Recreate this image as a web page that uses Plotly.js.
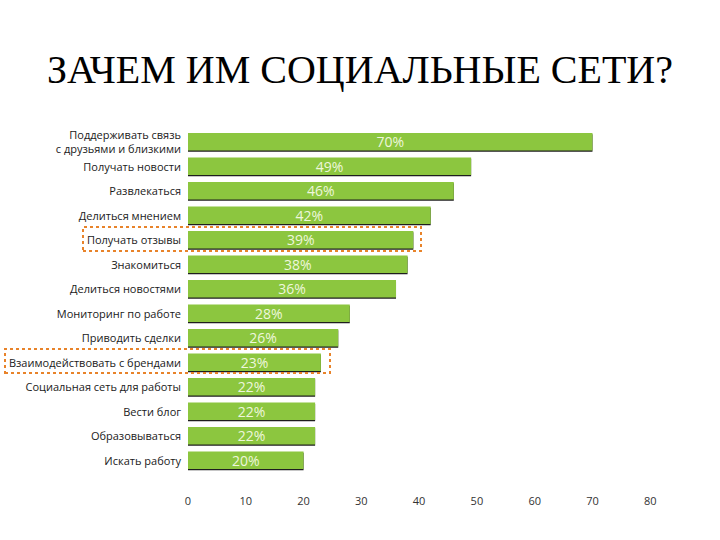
<!DOCTYPE html>
<html>
<head>
<meta charset="utf-8">
<script src="https://cdn.plot.ly/plotly-3.0.1.min.js"></script>
<style>
  html, body { margin: 0; padding: 0; background: #fff; }
  #chart { width: 720px; height: 540px; }
</style>
</head>
<body>
<div id="chart"></div>
<script>
// Данные графика
var categories = [
  "Поддерживать связь<br>с друзьями и близкими",
  "Получать новости",
  "Развлекаться",
  "Делиться мнением",
  "Получать отзывы",
  "Знакомиться",
  "Делиться новостями",
  "Мониторинг по работе",
  "Приводить сделки",
  "Взаимодействовать с брендами",
  "Социальная сеть для работы",
  "Вести блог",
  "Образовываться",
  "Искать работу"
];
var values = [70, 49, 46, 42, 39, 38, 36, 28, 26, 23, 22, 22, 22, 20];
var labels = values.map(function (v) { return v + "%"; });
var tickValues = [0, 10, 20, 30, 40, 50, 60, 70, 80];

// Тень (тёмная кромка справа и снизу)
var shadow = {
  type: "bar",
  orientation: "h",
  y: categories,
  x: values,
  width: 0.72,
  offset: -0.33,
  marker: { color: "#1e1e1e", line: { width: 0 } },
  hoverinfo: "skip"
};

// Основные полосы
var bars = {
  type: "bar",
  orientation: "h",
  y: categories,
  x: values,
  width: 0.72,
  offset: -0.38,
  marker: { color: "#8cc63f", line: { width: 0 } },
  text: labels,
  textposition: "inside",
  insidetextanchor: "middle",
  constraintext: "none",
  textangle: 0,
  textfont: { family: "Open Sans, sans-serif", size: 14, color: "#eef7dc" }
};

var layout = {
  width: 720,
  height: 540,
  paper_bgcolor: "#fff",
  plot_bgcolor: "#fff",
  showlegend: false,
  barmode: "overlay",
  margin: { l: 188, r: 68, t: 130, b: 67 },
  title: {
    text: "ЗАЧЕМ ИМ СОЦИАЛЬНЫЕ СЕТИ?",
    font: { family: "Liberation Serif, Times New Roman, serif", size: 40, color: "#000" },
    x: 0.5,
    xanchor: "center",
    y: 0.872,
    yanchor: "middle"
  },
  xaxis: {
    range: [0, 80.3],
    tickvals: tickValues,
    ticktext: tickValues.map(String),
    showgrid: false,
    zeroline: false,
    showline: false,
    ticks: "",
    ticklabelstandoff: 20,
    tickfont: { family: "Open Sans, sans-serif", size: 11, color: "#333" }
  },
  yaxis: {
    autorange: "reversed",
    showgrid: false,
    zeroline: false,
    showline: false,
    ticks: "",
    ticklabelstandoff: 6,
    tickfont: { family: "Open Sans, sans-serif", size: 11, color: "#1a1a1a" }
  },
  shapes: [
    // рамка вокруг "Получать отзывы"
    {
      type: "rect", xref: "paper", yref: "paper",
      x0: (83 - 188) / 464, x1: (421 - 188) / 464,
      y0: (473 - 251) / 343, y1: (473 - 227) / 343,
      line: { color: "#e8832a", width: 2, dash: "dot" }
    },
    // рамка вокруг "Взаимодействовать с брендами"
    {
      type: "rect", xref: "paper", yref: "paper",
      x0: (5 - 188) / 464, x1: (330 - 188) / 464,
      y0: (473 - 373) / 343, y1: (473 - 349) / 343,
      line: { color: "#e8832a", width: 2, dash: "dot" }
    }
  ]
};

Plotly.newPlot("chart", [shadow, bars], layout, { displayModeBar: false, staticPlot: true });
</script>
</body>
</html>
